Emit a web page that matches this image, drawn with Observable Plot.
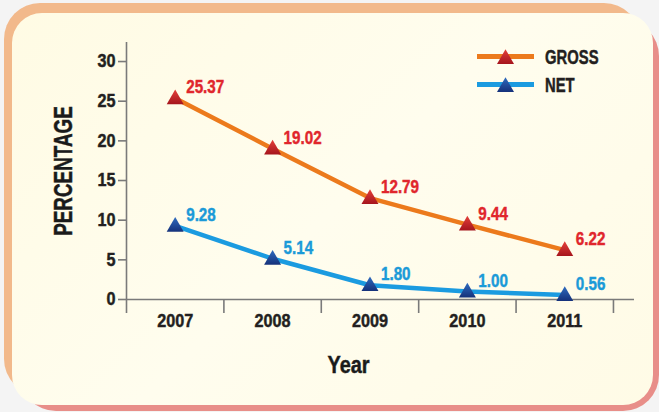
<!DOCTYPE html>
<html>
<head>
<meta charset="utf-8">
<script src="https://cdn.jsdelivr.net/npm/d3@7"></script>
<script src="https://cdn.jsdelivr.net/npm/@observablehq/plot@0.6"></script>
<style>
  html, body { margin: 0; padding: 0; background: #f4f4f4; }
  #wrap { position: relative; width: 659px; height: 412px; overflow: hidden; }
  .bg { position: absolute; }
  #orange { left: 4px; top: 3px; width: 636px; height: 392px; border-radius: 36px; background: #f2b98b; }
  #pink { left: 20px; top: 20px; width: 639px; height: 391px; border-radius: 36px; background: #e88e89; }
  #panel { left: 12px; top: 13px; width: 641px; height: 392px; border-radius: 30px;
           background: linear-gradient(135deg, #fffbe4 0%, #fffdee 50%, #fffbe6 100%); }
  #chart { position: absolute; left: 0; top: 0; }
</style>
</head>
<body>
<div id="wrap">
  <div class="bg" id="orange"></div>
  <div class="bg" id="pink"></div>
  <div class="bg" id="panel"></div>
  <div id="chart"></div>
</div>
<script>
// ---- data ----
const years = [2007, 2008, 2009, 2010, 2011];
const gross = [25.37, 19.02, 12.79, 9.44, 6.22];
const net = [9.28, 5.14, 1.80, 1.00, 0.56];
const seriesNames = ["GROSS", "NET"];
const yTicks = [0, 5, 10, 15, 20, 25, 30];
const yTitle = "PERCENTAGE";
const xTitle = "Year";

// ---- styles ----
const FONT = "'Liberation Sans', Arial, sans-serif";
const styles = {
  GROSS: { line: "#ec7a1c", marker: "#c8202a", markerTop: "#e4403a", markerBottom: "#a5151d", label: "#e0262c" },
  NET:   { line: "#1b9be0", marker: "#1d4597", markerTop: "#2f6cc0", markerBottom: "#15317a", label: "#1b9ad8" }
};
const axisGray = "#7a7a7a";
const textDark = "#231f20";
// horizontal condensing per font size (to mimic a condensed bold face)
const condenseBySize = { 18: 0.9, 19: 0.8, 25: 0.755, 24: 0.83 };

const valuesBySeries = { GROSS: gross, NET: net };
const rows = seriesNames.flatMap(s => years.map((yr, i) => ({ series: s, year: yr, value: valuesBySeries[s][i] })));
const boundaries = years.map(y => y - 0.5).concat([years[years.length - 1] + 0.5]);
const fmt = d3.format(".2f");

const seriesMarks = seriesNames.flatMap(s => {
  const data = rows.filter(d => d.series === s);
  return [
    Plot.line(data, { x: "year", y: "value", stroke: styles[s].line, strokeWidth: 4.5, strokeLinejoin: "round" }),
    Plot.dot(data, { x: "year", y: "value", symbol: "triangle", r: 6.3, fill: styles[s].marker, stroke: "none", dy: 1 }),
    Plot.text(data, { x: "year", y: "value", text: d => fmt(d.value), dx: 11, dy: -11, textAnchor: "start",
                      fill: styles[s].label, fontSize: 19, fontWeight: "bold" })
  ];
});

const plot = Plot.plot({
  width: 659,
  height: 412,
  marginLeft: 126,
  marginRight: 25,
  marginTop: 42,
  marginBottom: 113,
  x: { type: "linear", domain: [2006.5, 2011.716] },
  y: { domain: [0, 32.4] },
  style: { background: "transparent", fontFamily: FONT, fontWeight: "bold", overflow: "visible", color: textDark },
  marks: [
    // axis lines
    Plot.ruleY([0], { stroke: axisGray, strokeWidth: 1.6 }),
    Plot.ruleX([boundaries[0]], { stroke: axisGray, strokeWidth: 1.6 }),
    // y ticks + labels
    Plot.axisY({ ticks: yTicks, tickSize: 8, tickFormat: () => "", stroke: axisGray, strokeWidth: 1.6, label: null }),
    Plot.axisY({ ticks: yTicks, tickSize: 0, tickPadding: 11, tickFormat: d => String(d), fontSize: 18, fill: textDark, label: null }),
    // x boundary ticks + category labels
    Plot.axisX({ ticks: boundaries, tickSize: 14, tickFormat: () => "", stroke: axisGray, strokeWidth: 1.6, label: null }),
    Plot.axisX({ ticks: years, tickSize: 0, tickPadding: 15, tickFormat: d => String(d), fontSize: 18, fill: textDark, label: null }),
    // axis titles
    Plot.text([yTitle], { frameAnchor: "left", dx: -63, rotate: -90, textAnchor: "middle", lineAnchor: "middle", fontSize: 25, fill: "#1a1a1a" }),
    Plot.text([xTitle], { frameAnchor: "bottom", dx: -32, dy: 66, textAnchor: "middle", lineAnchor: "middle", fontSize: 24, fill: "#1a1a1a" }),
    ...seriesMarks
  ]
});

document.getElementById("chart").appendChild(plot);

const svg = d3.select(plot);

// ---- triangle gradients ----
const defs = svg.append("defs");
seriesNames.forEach(s => {
  const lg = defs.append("linearGradient").attr("id", `tri-${s}`).attr("x1", 0).attr("y1", 0).attr("x2", 0).attr("y2", 1);
  lg.append("stop").attr("offset", "0%").attr("stop-color", styles[s].markerTop);
  lg.append("stop").attr("offset", "100%").attr("stop-color", styles[s].markerBottom);
});
svg.selectAll('g[aria-label="dot"]').each(function (_, i) {
  const s = seriesNames[i];
  d3.select(this).attr("fill", `url(#tri-${s})`).selectAll("path").attr("fill", `url(#tri-${s})`);
});

// ---- legend (top right) ----
const leg = svg.append("g").attr("font-family", FONT).attr("font-weight", "bold");
const tri = d3.symbol(d3.symbolTriangle, Math.PI * 6.3 * 6.3)();
seriesNames.forEach((s, i) => {
  const g = leg.append("g").attr("transform", `translate(0, ${56.5 + i * 28})`);
  g.append("line").attr("x1", 477).attr("x2", 534).attr("y1", 0).attr("y2", 0)
    .attr("stroke", styles[s].line).attr("stroke-width", 5);
  g.append("path").attr("d", tri).attr("transform", "translate(505.5, 2.5)").attr("fill", `url(#tri-${s})`);
  g.append("text").attr("x", 545).attr("y", 0).attr("dy", "0.36em").attr("text-anchor", "start")
    .attr("data-condense", 0.76)
    .attr("font-size", 19.5).attr("fill", textDark).text(s);
});

// ---- condense text horizontally and embolden slightly ----
plot.querySelectorAll("text").forEach(t => {
  const cs = getComputedStyle(t);
  const fs = parseFloat(cs.fontSize);
  const f = +t.getAttribute("data-condense") || condenseBySize[fs];
  if (!f) return;
  const len = t.getComputedTextLength();
  if (len > 0) {
    t.setAttribute("textLength", (len * f).toFixed(2));
    t.setAttribute("lengthAdjust", "spacingAndGlyphs");
    t.style.stroke = cs.fill;
    t.style.strokeWidth = "0.45px";
    t.style.paintOrder = "stroke";
  }
});
</script>
</body>
</html>
